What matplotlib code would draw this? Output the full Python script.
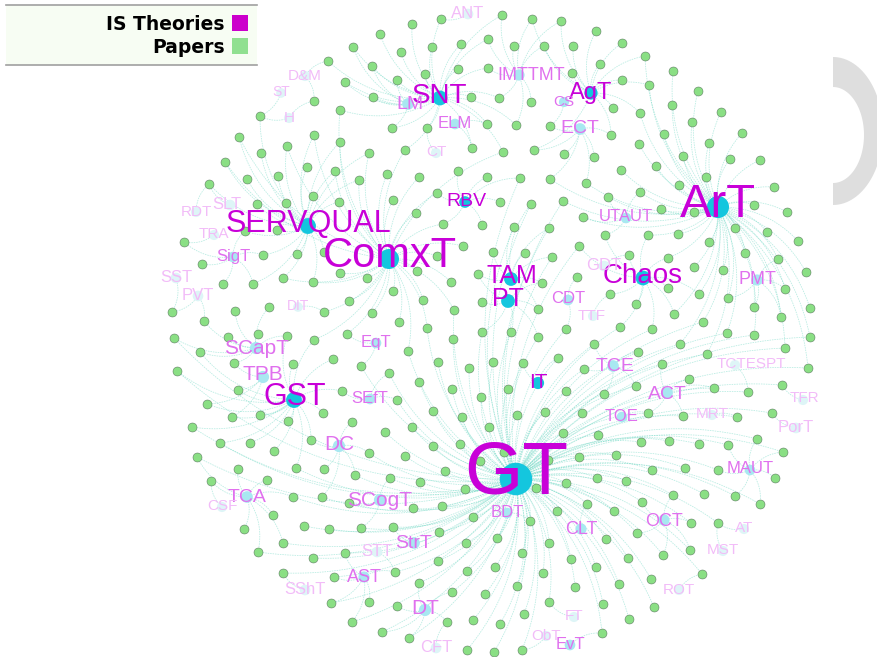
import numpy as np
import matplotlib.pyplot as plt
from matplotlib.collections import LineCollection
from matplotlib.patches import Rectangle, Polygon

plt.rcParams['font.family'] = ['Liberation Sans', 'DejaVu Sans']

# IS theories: name, node position, label centre, size (~degree), tier (1 faint .. 3 strong)
theory = ["GT", "ArT", "ComxT", "SERVQUAL", "GST", "Chaos", "SNT", "AgT", "TAM", "PT",
          "RBV", "IT", "TCE", "ACT", "TOE", "UTAUT", "CDT", "TTF", "GDT", "PMT",
          "TCTESPT", "TFR", "PorT", "MRT", "MAUT", "AT", "MST", "OCT", "ROT", "CLT",
          "BDT", "FT", "ObT", "EvT", "DC", "TCA", "CSF", "SCogT", "StrT", "STT",
          "AST", "SShT", "DT", "CFT", "SCapT", "TPB", "EqT", "SEfT", "DIT", "SigT",
          "TRA", "SST", "PVT", "RDT", "SLT", "D&M", "ST", "H", "LM", "ELM",
          "CT", "ANT", "IMTTMT", "CS", "ECT"]
node_x = [516, 718, 389, 308, 294, 643, 440, 591, 511, 508,
          465, 538, 613, 667, 622, 626, 568, 593, 604, 757,
          735, 803, 796, 712, 750, 744, 723, 664, 679, 581,
          507, 574, 546, 570, 339, 247, 222, 380, 414, 377,
          364, 305, 425, 436, 256, 263, 376, 370, 298, 233,
          214, 176, 198, 196, 230, 305, 281, 289, 408, 455,
          436, 468, 519, 564, 580]
node_y = [479, 207, 259, 226, 400, 278, 98, 93, 279, 301,
          202, 383, 366, 393, 417, 218, 300, 316, 266, 280,
          365, 400, 428, 415, 470, 529, 551, 520, 590, 529,
          513, 617, 636, 645, 446, 497, 507, 500, 543, 552,
          577, 590, 610, 648, 348, 377, 343, 399, 307, 257,
          235, 278, 296, 212, 205, 76, 93, 118, 104, 124,
          153, 14, 75, 102, 129]
label_x = [516, 718, 390, 308, 295, 643, 440, 591, 512, 508,
           466, 538, 615, 667, 622, 626, 568, 592, 604, 757,
           751, 804, 796, 712, 750, 744, 723, 664, 679, 581,
           507, 574, 546, 570, 339, 247, 222, 380, 414, 377,
           364, 305, 425, 436, 256, 263, 376, 370, 298, 233,
           214, 176, 198, 196, 227, 305, 281, 289, 410, 455,
           436, 468, 531, 564, 580]
label_y = [467, 200, 252, 221, 394, 273, 93, 91, 274, 297,
           199, 380, 364, 392, 415, 215, 297, 314, 264, 277,
           362, 397, 426, 413, 467, 527, 549, 519, 588, 527,
           511, 615, 634, 643, 443, 495, 505, 498, 541, 550,
           575, 588, 607, 646, 346, 372, 341, 397, 305, 255,
           233, 276, 294, 210, 203, 74, 91, 116, 102, 122,
           151, 12, 73, 100, 126]
size = [54, 34, 30, 22, 22, 20, 20, 17, 18, 18,
        14, 15, 14, 14, 12, 12, 12, 11, 12, 13,
        11, 11, 12, 11, 12, 11, 11, 13, 11, 13,
        12, 11, 11, 12, 15, 14, 11, 15, 14, 12,
        13, 12, 15, 12, 15, 15, 12, 12, 10, 12,
        11, 12, 12, 11, 12, 11, 10, 11, 14, 12,
        11, 12, 13, 11, 14]
tier = [3, 3, 3, 3, 3, 3, 3, 3, 3, 3,
        3, 3, 2, 2, 2, 2, 2, 1, 1, 2,
        1, 1, 1, 1, 2, 1, 1, 2, 1, 2,
        2, 1, 1, 2, 2, 2, 1, 2, 2, 1,
        2, 1, 2, 1, 2, 2, 2, 2, 1, 2,
        1, 1, 1, 1, 1, 1, 1, 1, 2, 2,
        1, 1, 2, 2, 2]

# papers (positions, pixels)
paper_x = [441, 412, 380, 353, 328, 314, 260, 340, 345, 372, 401, 432, 461, 488, 488, 458, 425, 397, 373, 471,
           487, 427, 392, 314, 287, 239, 261, 225, 209, 247, 278, 307, 335, 340, 369, 405, 387, 359, 313, 286,
           257, 339, 393, 416, 437, 419, 458, 472, 487,
           502, 532, 561, 596, 622, 645, 673, 698, 672, 649, 622, 600, 573, 544, 514, 572, 499, 531, 550, 516,
           613, 640, 611, 639, 664, 692, 721, 742, 709, 730, 760, 683, 656, 706, 679, 774, 787, 754, 694, 661,
           640, 608, 586, 563, 550, 520, 500, 531, 503, 534, 564, 594, 621, 583,
           443, 482, 493, 463, 437, 417, 451, 478, 482, 454, 423, 393, 367, 340, 324, 297, 277, 263, 245, 184,
           202, 223, 253, 283, 313, 349, 324, 269, 235, 204, 172, 174, 200, 228, 258, 287, 314, 347, 372, 399,
           427, 453, 482, 493, 469, 438, 408, 389, 361, 333, 293, 234, 177, 207, 238, 232, 260, 288, 323, 352,
           342, 397, 419, 452, 481, 433, 462, 192,
           514, 549, 605, 648, 678, 709, 735, 767, 798, 778, 806, 785, 810, 781, 810, 785, 808, 782, 772, 737,
           748, 714, 689, 707, 680, 662, 638, 652, 674, 703, 727, 754, 754, 728, 699, 723, 694, 745, 668, 668,
           629, 579, 552, 525, 542, 577, 610, 636, 620, 566, 538, 511, 538, 594, 558, 523, 584, 566, 604, 636,
           648, 683, 545, 582, 508, 517, 489,
           220, 250, 274, 311, 385, 412, 433, 460, 480, 445, 420, 405, 369, 355, 390, 324, 296, 267, 238, 197,
           211, 244, 258, 273, 293, 322, 349, 304, 329, 361, 393, 413, 442, 465, 473, 439, 466, 497, 438, 467,
           495, 419, 452, 485, 473, 447, 283, 313, 345, 395, 334, 283, 331, 369, 397, 352, 382, 409, 467, 494,
           563, 598, 641, 669, 699, 728, 757, 783, 775, 718, 685, 652, 616, 579, 548, 504, 536, 566, 597, 626,
           642, 673, 704, 735, 760, 718, 691, 637, 606, 614, 587, 557, 530, 549, 522, 543, 571, 596, 628, 690,
           663, 702, 651, 619, 575, 517, 549, 603, 654, 629, 602, 524, 500, 522]
paper_y = [19, 24, 34, 47, 61, 101, 116, 110, 82, 66, 52, 47, 44, 39, 68, 69, 74, 80, 97, 97,
           124, 128, 128, 135, 146, 137, 153, 162, 184, 179, 176, 167, 171, 142, 153, 150, 174, 180, 196, 203,
           204, 202, 200, 213, 193, 177, 171, 148, 177,
           15, 19, 21, 31, 43, 56, 71, 91, 105, 85, 80, 64, 46, 46, 46, 73, 98, 102, 126, 125,
           108, 113, 135, 144, 134, 122, 112, 133, 143, 159, 160, 156, 166, 177, 185, 187, 212, 205, 212, 209,
           192, 197, 183, 201, 179, 178, 202, 204, 152, 150, 154, 157, 170, 217,
           224, 225, 252, 246, 256, 271, 282, 274, 302, 310, 300, 291, 278, 273, 252, 254, 230, 255, 231, 242,
           264, 284, 284, 278, 282, 301, 312, 307, 311, 321, 312, 338, 352, 337, 334, 336, 340, 334, 313, 322,
           328, 339, 332, 362, 368, 362, 351, 373, 366, 359, 364, 363, 371, 404, 390, 417, 415, 421, 413, 422,
           391, 400, 382, 389, 397, 411, 417, 427,
           227, 228, 235, 235, 234, 242, 228, 232, 241, 259, 272, 289, 308, 317, 337, 348, 368, 385, 413, 417,
           392, 388, 379, 354, 344, 364, 352, 329, 314, 322, 333, 335, 307, 298, 294, 270, 267, 253, 258, 288,
           255, 246, 257, 253, 283, 277, 294, 304, 327, 329, 337, 332, 309, 344, 358, 363, 369, 391, 394, 386,
           413, 416, 412, 413, 389, 415, 427,
           443, 443, 451, 440, 432, 427, 446, 444, 461, 471, 482, 456, 453, 475, 478, 469, 468, 480, 469, 457,
           481, 529, 552, 515, 497, 497, 503, 526, 529, 528, 527, 508, 506, 489, 517, 532, 543, 538, 561, 571,
           567, 583, 592, 594, 620, 622, 543, 558, 553, 572, 577, 573, 603, 602, 606, 622, 632, 638, 650, 652,
           433, 435, 442, 441, 444, 445, 439, 452, 478, 470, 468, 470, 455, 457, 460, 452, 488, 483, 478, 481,
           502, 495, 494, 496, 504, 523, 523, 533, 539, 511, 504, 511, 521, 543, 553, 573, 559, 567, 558, 550,
           555, 574, 579, 584, 587, 586, 602, 604, 607, 619, 633, 614, 624, 650]

label_col = {3: '#c800d8', 2: '#e070ee', 1: '#f2bcf8'}
node_col = {3: '#14c6de', 2: '#a8e8f1', 1: '#def5f7'}

tx = np.array(node_x, float)
ty = np.array(node_y, float)
px = np.array(paper_x, float)
py = np.array(paper_y, float)
sz = np.array(size, float)
tr = np.array(tier)

# attach every paper to the most attractive theory (distance / weight), sometimes a second one
w = (sz / 12.0) ** 1.2 * np.where(tr == 1, 0.6, 1.0)
d = np.hypot(px[:, None] - tx[None, :], py[:, None] - ty[None, :])
score = d / w[None, :]
order = np.argsort(score, axis=1)
edges = []
for i in range(len(px)):
    a, b = order[i, 0], order[i, 1]
    edges.append((i, a))
    if score[i, b] < 1.3 * score[i, a]:
        edges.append((i, b))
used = {e[1] for e in edges}
for j in range(len(tx)):
    if j not in used:
        edges.append((int(np.argmin(d[:, j])), j))

t = np.linspace(0, 1, 30)[:, None]
segs = []
for i, j in edges:
    p0 = np.array([px[i], py[i]])
    p2 = np.array([tx[j], ty[j]])
    v = p2 - p0
    p1 = (p0 + p2) / 2 + 0.22 * np.array([-v[1], v[0]])
    segs.append((1 - t) ** 2 * p0 + 2 * (1 - t) * t * p1 + t ** 2 * p2)

fig = plt.figure(figsize=(8.77, 6.57), dpi=100)
ax = fig.add_axes([0, 0, 1, 1])
ax.set_xlim(0, 877)
ax.set_ylim(657, 0)
ax.axis('off')

# grey crescent at right edge
a1 = np.linspace(-np.pi / 2, np.pi / 2, 60)
outer = np.c_[833 + 50 * np.cos(a1), 131 + 74 * np.sin(a1)]
inner = np.c_[833 + 31 * np.cos(a1[::-1]), 135 + 48 * np.sin(a1[::-1])]
ax.add_patch(Polygon(np.vstack([outer, inner]), closed=True, fc='#dedede', ec='none', zorder=0))

ax.add_collection(LineCollection(segs, colors='#6fd8c4', linewidths=0.55, alpha=0.5,
                                 linestyles=(0, (2, 1.2)), zorder=1))

ax.scatter(px, py, s=42, c='#8adf84', edgecolors='#55705a', linewidths=0.35, zorder=2)

r = 2.2 + 0.26 * sz
ax.scatter(tx, ty, s=(2 * r * 0.72) ** 2, c=[node_col[k] for k in tier],
           edgecolors='none', zorder=3)

for name, x, y, s, k in zip(theory, label_x, label_y, size, tier):
    ax.text(x, y + s / 2.0, name, fontsize=s, color=label_col[k],
            ha='center', va='baseline', zorder=4)

# legend
ax.add_patch(Rectangle((6, 5), 251, 60, fc='#f7fdf3', ec='none', zorder=5))
ax.plot([6, 257], [5, 5], color='#a0a0a0', lw=1.2, zorder=6)
ax.plot([6, 257], [65, 65], color='#a0a0a0', lw=1.2, zorder=6)
ax.text(225, 30, "IS Theories", fontsize=13.5, fontweight='bold', family='DejaVu Sans',
        ha='right', va='baseline', zorder=6)
ax.text(225, 53, "Papers", fontsize=13.5, fontweight='bold', family='DejaVu Sans',
        ha='right', va='baseline', zorder=6)
ax.add_patch(Rectangle((232, 15), 16, 16, fc='#cc00cc', ec='none', zorder=6))
ax.add_patch(Rectangle((232, 38), 16, 16, fc='#90e090', ec='none', zorder=6))

fig.savefig("out.png", dpi=100)
